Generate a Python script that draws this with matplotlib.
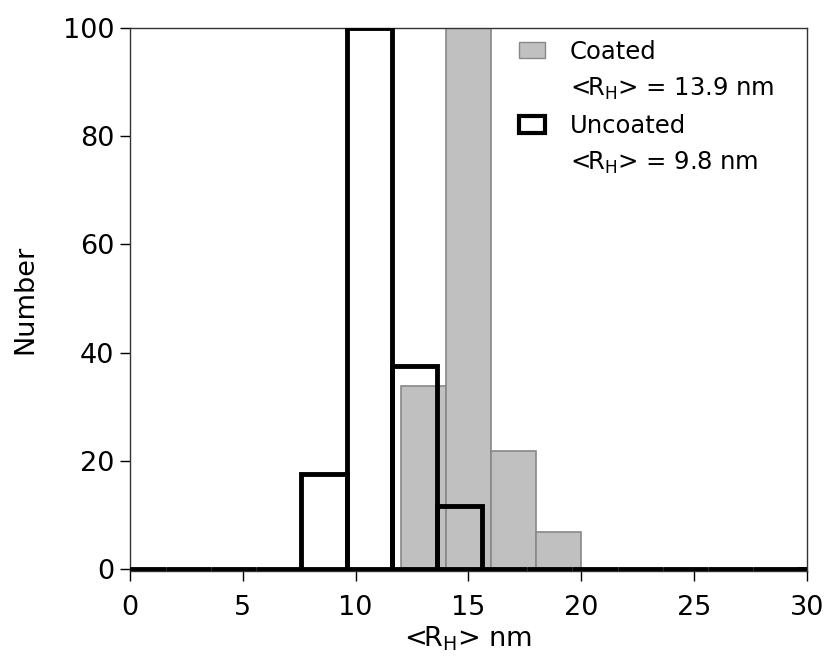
import numpy as np
import matplotlib.pyplot as plt
from matplotlib.patches import Patch

# histogram bins (nm) and counts
coated_edges = np.arange(0, 32, 2.0)
coated_counts = [0, 0, 0, 0, 0, 0, 33.8, 100, 21.8, 6.8, 0, 0, 0, 0, 0]
uncoated_edges = np.arange(-0.4, 32, 2.0)
uncoated_counts = [0, 0, 0, 0, 17.5, 100, 37.5, 11.7, 0, 0, 0, 0, 0, 0, 0, 0]

legend_lines = ['Coated', '<R$_\\mathregular{H}$> = 13.9 nm',
                'Uncoated', '<R$_\\mathregular{H}$> = 9.8 nm']

plt.rcParams['font.family'] = ['DejaVu Sans']

fig = plt.figure(figsize=(8.27, 6.57), dpi=100)
ax = fig.add_axes([0.157, 0.131, 0.819, 0.826])

ax.bar(coated_edges[:-1], coated_counts, width=np.diff(coated_edges), align='edge',
       color='#c0c0c0', edgecolor='#888888', linewidth=1.2, zorder=2)
ax.bar(uncoated_edges[:-1], uncoated_counts, width=np.diff(uncoated_edges), align='edge',
       fill=False, edgecolor='black', linewidth=3.5, zorder=3)

ax.set_xlim(0, 30)
ax.set_ylim(-0.4, 100)
ax.set_xticks(np.arange(0, 31, 5))
ax.set_yticks(np.arange(0, 101, 20))
ax.tick_params(labelsize=19.5, direction='out', length=7, width=1)
ax.tick_params(axis='x', pad=10)
ax.tick_params(axis='y', pad=4)
for s in ax.spines.values():
    s.set_linewidth(1)
    s.set_color('#333333')

ax.set_xlabel('<R$_\\mathregular{H}$> nm', fontsize=19.5, labelpad=3)
ax.set_ylabel('Number', fontsize=19.5, labelpad=18)

blank = Patch(facecolor='none', edgecolor='none')
handles = [Patch(facecolor='#c0c0c0', edgecolor='#888888', linewidth=1), blank,
           Patch(facecolor='white', edgecolor='black', linewidth=3), blank]
ax.legend(handles, legend_lines, loc='upper right', bbox_to_anchor=(0.9616, 0.9926),
          frameon=False, fontsize=17.5, handlelength=1.1, handleheight=0.66,
          handletextpad=1.0, labelspacing=0.5, borderaxespad=0, borderpad=0.3)

fig.savefig('out.png', dpi=100)
plt.close(fig)
